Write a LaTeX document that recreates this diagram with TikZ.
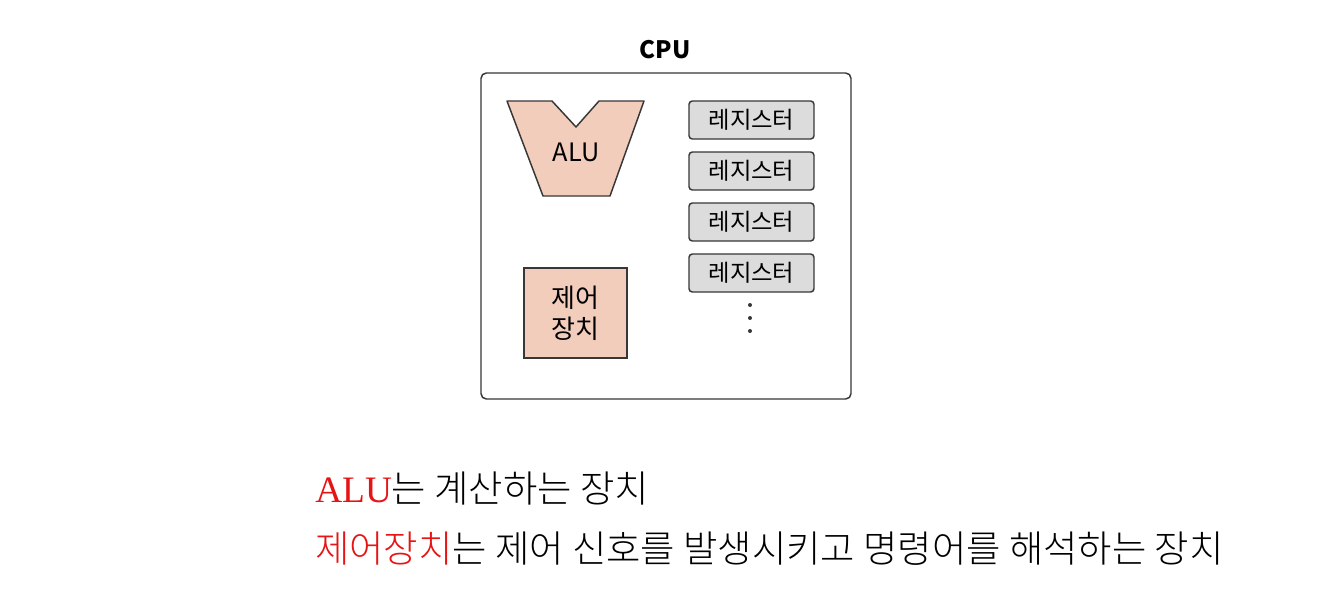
\documentclass[tikz,border=0pt]{standalone}
\usepackage{fontspec}
\setmainfont{Noto Sans CJK KR}
\newfontfamily\krsans{Noto Sans CJK KR}
\newfontfamily\krlight{Noto Sans CJK KR Light}
\newfontfamily\serifalu{Liberation Serif}
\definecolor{salmon}{RGB}{242,205,188}
\definecolor{reggray}{RGB}{220,220,220}
\definecolor{edge}{RGB}{55,55,55}
\definecolor{hlred}{RGB}{230,20,20}
\begin{document}
\begin{tikzpicture}[x=0.75pt,y=-0.75pt,
  outl/.style={draw=edge,line width=1.1pt},
  regbox/.style={outl,fill=reggray,rounded corners=2.5pt,minimum width=93.75pt,minimum height=28.5pt,inner sep=0pt,font=\krsans\fontsize{17.5}{20}\selectfont},
  dotmark/.style={fill=edge,circle,inner sep=0pt,minimum size=3pt},
  bodytext/.style={anchor=base west,inner sep=0pt,font=\krlight\fontsize{28}{32}\selectfont}]
\useasboundingbox (0,0) rectangle (1318,604);
\fill[white] (0,0) rectangle (1318,604);
% CPU box
\node[outl,rounded corners=4pt,minimum width=277.5pt,minimum height=244.5pt,inner sep=0pt] (cpu) at (666,236) {};
\node[font=\krsans\bfseries\fontsize{18}{20}\selectfont] (cpulbl) at (665,50) {CPU};
% ALU
\draw[outl,fill=salmon,line join=round] (507,101) -- (552,101) -- (576,127) -- (599,101) -- (644,101) -- (610,196) -- (543,196) -- cycle;
\node[font=\krsans\fontsize{19}{22}\selectfont] (alu) at (576,152) {ALU};
% control unit
\node[outl,fill=salmon,minimum width=77.25pt,minimum height=67.5pt,inner sep=0pt,align=center,font=\krsans\fontsize{19.5}{23}\selectfont] (ctrl) at (575.5,313) {제어\\장치};
% registers
\node[regbox] (r1) at (751.5,120) {레지스터};
\node[regbox] (r2) at (751.5,171) {레지스터};
\node[regbox] (r3) at (751.5,222) {레지스터};
\node[regbox] (r4) at (751.5,273) {레지스터};
\node[dotmark] (d1) at (750,305) {};
\node[dotmark] (d2) at (750,318) {};
\node[dotmark] (d3) at (750,331) {};
% bottom text
\node[bodytext] (t1) at (315,502) {{\serifalu\color{hlred}ALU}는 계산하는 장치};
\node[bodytext] (t2) at (315,562) {{\color{hlred}제어장치}는 제어 신호를 발생시키고 명령어를 해석하는 장치};
\end{tikzpicture}
\end{document}
